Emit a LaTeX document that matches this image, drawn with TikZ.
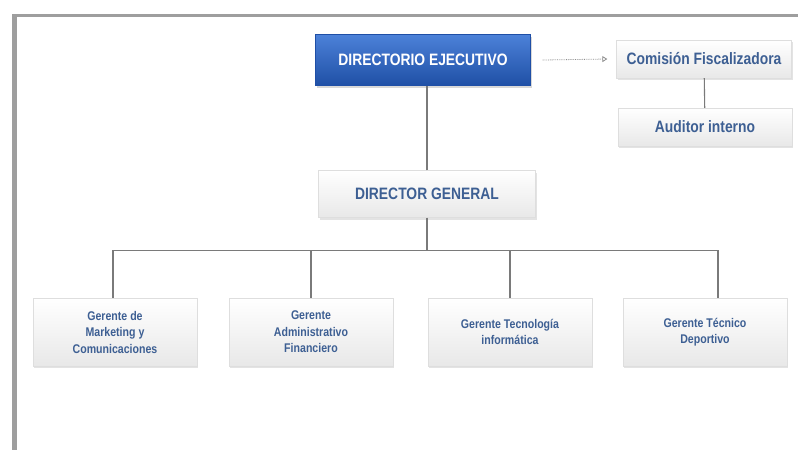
\documentclass[tikz,border=0pt]{standalone}
\usepackage{fontspec}
\newfontfamily\orgfont[FakeStretch=0.84]{Liberation Sans}
\usetikzlibrary{shadows,arrows.meta}
\definecolor{titulo}{HTML}{3D5F93}
\definecolor{azularriba}{HTML}{4C82D8}
\definecolor{azulabajo}{HTML}{1F4FA6}
\definecolor{linea}{HTML}{7A7A7A}

\tikzset{
  cargo/.style={draw=black!13, top color=white, bottom color=black!9,
    drop shadow={opacity=0.22, shadow xshift=1pt, shadow yshift=-2pt},
    font=\orgfont\bfseries\fontsize{16.5}{18}\selectfont, text=titulo, align=center},
  jefe/.style={draw=azulabajo, top color=azularriba, bottom color=azulabajo,
    drop shadow={opacity=0.3, shadow xshift=1pt, shadow yshift=-2pt},
    font=\orgfont\bfseries\fontsize{16.5}{18}\selectfont, text=white},
  gerente/.style={cargo, minimum width=164pt, minimum height=68pt,
    font=\orgfont\bfseries\fontsize{12.6}{16.5}\selectfont},
  enlace/.style={draw=linea, line width=1.1pt}
}

\begin{document}
\begin{tikzpicture}[x=1pt,y=-1pt]
\useasboundingbox[fill=white] (0,0) rectangle (798,450);
% marco de la captura
\fill[black!38] (12,14) rectangle (17,450);
\fill[black!38] (12,14) rectangle (798,17);

% directorio y control
\node[jefe, minimum width=215pt, minimum height=51pt] (dir) at (423,60) {DIRECTORIO EJECUTIVO};
\node[cargo, minimum width=175pt, minimum height=38pt] (com) at (704,59) {Comisión Fiscalizadora};
\node[cargo, minimum width=174pt, minimum height=38pt] (aud) at (705,127) {Auditor interno};
\node[cargo, minimum width=217pt, minimum height=47pt] (dg) at (427,194) {DIRECTOR GENERAL};

% gerencias
\node[gerente] (mkt) at (115,332) {Gerente de\\Marketing y\\Comunicaciones};
\node[gerente] (adm) at (311,332) {Gerente\\Administrativo\\Financiero};
\node[gerente] (tec) at (510,332) {Gerente Tecnología\\informática};
\node[gerente] (dep) at (705,332) {Gerente Técnico\\Deportivo};

% conexiones
\draw[black!45, densely dotted, line width=0.8pt, -{Triangle[open,length=5pt,width=6pt]}]
  ([xshift=12pt]dir.east) -- ([xshift=-9pt]com.west);
\draw[enlace] (com) -- (aud);
\draw[enlace] (dg.north) -- (dg.north |- dir.south);
\draw[enlace] (dg.south) -- ++(0,33) coordinate (bus);
\draw[enlace] ([xshift=-2pt]mkt.north) |- (bus) -| ([xshift=13pt]dep.north);
\draw[enlace] (adm.north) -- (adm.north |- bus);
\draw[enlace] (tec.north) -- (tec.north |- bus);
\end{tikzpicture}
\end{document}
